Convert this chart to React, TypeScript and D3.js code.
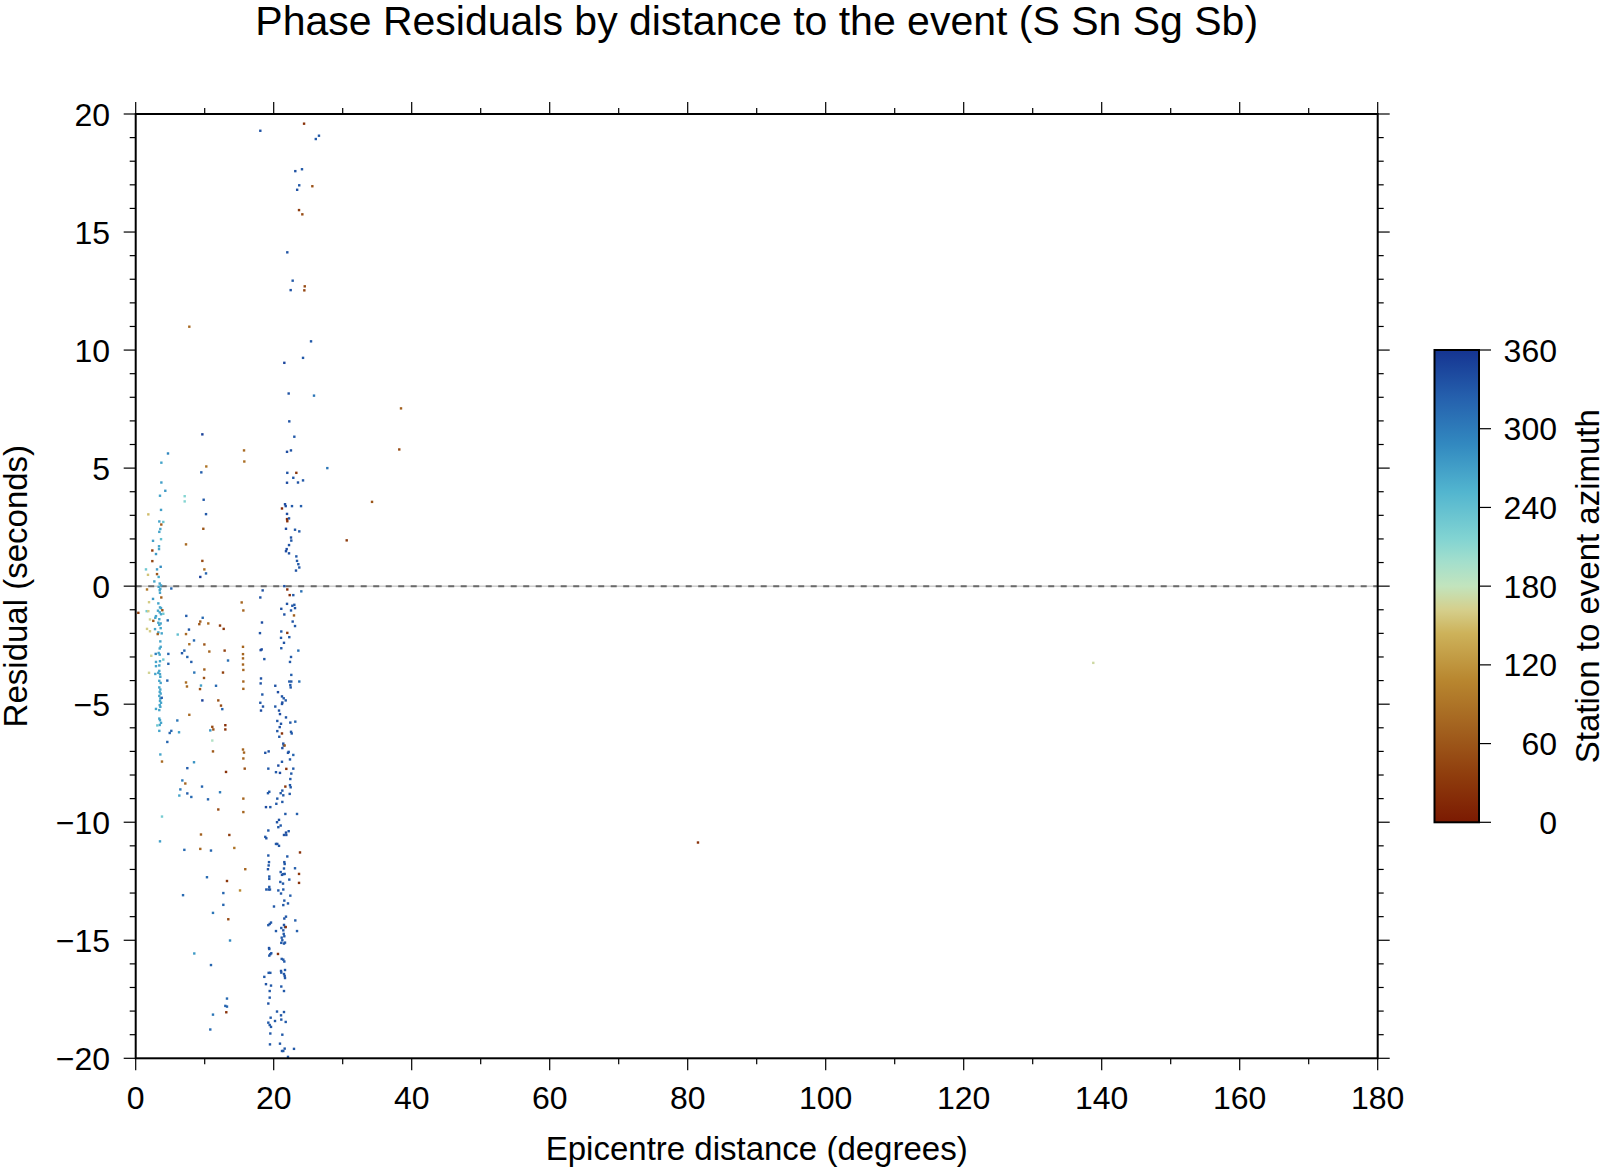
import React from "react";
import * as d3 from "d3";

// [distance (deg), residual (s), station-to-event azimuth (deg)]
type P = [number, number, number];

const xTickLabels = [0, 20, 40, 60, 80, 100, 120, 140, 160, 180];
const yTickLabels = [-20, -15, -10, -5, 0, 5, 10, 15, 20];
const cbTickLabels = [0, 60, 120, 180, 240, 300, 360];

// roma-like palette stops (azimuth fraction -> colour)
const paletteStops: [number, string][] = [
  [0.0, "#7b1a02"], [0.1, "#8f3d0d"], [0.2, "#a3621f"], [0.3, "#b8862f"],
  [0.4, "#cdb25a"], [0.45, "#d5cf8c"], [0.5, "#c2e4bd"], [0.55, "#a4dfcc"],
  [0.6, "#82d4d2"], [0.7, "#52b5cf"], [0.8, "#3289c0"], [0.9, "#2560ad"], [1.0, "#153491"],
];

const nearBand: P[] = [
  [4.68,5.62,290],[3.72,5.23,265],[3.72,4.39,270],[4.29,4.04,275],[3.52,3.83,265],[3.67,3.23,270],
  [1.83,3.04,150],[3.42,2.74,265],[4.0,2.72,235],[3.57,2.42,265],[3.42,2.3,265],[3.71,2.61,65],
  [3.67,1.99,240],[2.51,1.92,270],[3.38,1.69,265],[3.38,1.57,265],[2.41,1.51,35],[2.94,1.36,275],
  [2.41,1.06,45],[3.62,0.82,285],[1.49,0.71,230],[3.09,0.71,270],[1.78,0.48,155],[3.09,0.51,60],
  [3.33,0.39,260],[2.7,0.2,265],[3.48,0.11,265],[3.67,0.03,265],[3.33,-0.03,265],[3.57,-0.11,265],
  [3.48,-0.17,265],[1.64,-0.14,95],[3.52,-0.28,265],[3.71,-0.48,70],[2.51,-0.54,275],[1.93,-0.68,160],
  [3.28,-0.73,265],[3.52,-0.9,265],[3.67,-0.93,265],[3.23,-1.04,265],[1.59,-1.06,225],[1.83,-1.06,160],
  [3.86,-1.02,60],[0.38,-1.13,40],[3.48,-1.11,265],[3.67,-1.19,265],[4.0,-1.17,230],[2.94,-1.27,265],
  [2.84,-1.34,265],[3.42,-1.4,265],[3.28,-1.55,265],[3.62,-1.58,265],[3.42,-1.64,265],[2.07,-1.41,165],
  [2.55,-1.47,60],[4.64,-1.45,315],[1.64,-1.81,160],[2.8,-1.82,265],[3.62,-1.78,265],[2.07,-1.91,160],
  [3.28,-1.96,265],[3.77,-2.0,265],[3.19,-2.03,70],[3.57,-2.34,265],[3.62,-2.57,265],[3.48,-2.64,265],
  [3.33,-2.83,265],[3.48,-2.9,265],[2.9,-2.87,295],[4.73,-2.87,320],[2.26,-2.95,165],[4.0,-3.11,230],
  [2.94,-3.21,265],[3.52,-3.18,265],[3.42,-3.36,265],[2.94,-3.39,265],[4.73,-3.29,320],[1.93,-3.67,165],
  [3.42,-3.59,265],[3.28,-3.67,265],[3.52,-3.73,265],[3.57,-3.84,265],[3.42,-4.01,265],[3.62,-4.1,265],
  [3.42,-4.29,265],[3.57,-4.38,265],[3.48,-4.48,265],[3.62,-4.55,265],[3.42,-4.65,265],[3.57,-4.76,265],
  [3.52,-4.86,265],[3.67,-4.94,265],[3.48,-5.04,265],[3.57,-5.11,265],[3.42,-5.25,265],[2.94,-5.2,265],
  [2.84,-3.72,265],[4.58,-4.0,320],[3.77,-4.73,325],[3.42,-5.61,265],[3.52,-5.68,265],[3.67,-5.79,265],
  [3.48,-5.88,265],[3.13,-5.9,230],[3.42,-6.13,265],[5.16,-0.1,320],[5.16,-6.13,315],[4.93,-6.22,320],
  [4.58,-6.6,320],[3.57,-7.13,265],[3.81,-7.43,80],[3.81,-9.76,225],[3.52,-10.81,270],
];

const midBand: P[] = [
  [7.77,10.99,80],[9.66,6.43,350],[15.7,5.75,80],[15.74,5.28,85],[10.23,5.07,90],[9.51,4.82,325],
  [7.1,3.81,215],[7.1,3.59,215],[9.85,3.66,330],[10.19,3.05,330],[9.8,2.43,60],[7.29,1.77,80],
  [9.66,1.07,50],[9.95,0.71,85],[10.19,0.54,320],[9.36,0.39,350],[7.33,-1.26,325],[9.71,-1.34,315],
  [9.36,-1.5,65],[9.22,-1.61,60],[10.52,-1.58,80],[12.22,-1.67,35],[12.75,-1.81,30],[7.72,-1.84,330],
  [7.29,-2.03,80],[6.09,-2.05,240],[8.45,-2.3,315],[7.77,-2.46,85],[9.95,-2.47,60],[7.05,-2.73,320],
  [10.67,-2.77,75],[12.89,-2.73,40],[6.71,-2.84,330],[7.48,-3.0,320],[13.38,-3.15,310],[8.06,-3.21,325],
  [9.95,-3.53,70],[12.65,-3.66,40],[8.49,-3.66,305],[7.29,-4.08,85],[7.43,-4.25,80],[9.9,-3.89,55],
  [9.32,-4.36,55],[9.46,-4.21,270],[11.64,-4.22,315],[11.97,-4.84,55],[9.66,-4.84,350],[12.36,-5.06,50],
  [12.55,-5.21,320],[6.03,-5.69,305],[7.77,-5.45,80],[11.1,-5.96,50],[11.25,-6.07,55],[12.99,-5.89,25],
  [12.99,-6.07,30],[10.81,-6.11,280],[6.28,-6.19,270],[11.1,-6.54,190],[11.2,-7.0,65],[7.48,-7.71,325],
  [8.45,-7.46,280],[13.09,-7.87,25],[6.76,-8.23,300],[7.19,-8.36,75],[9.61,-8.49,320],[6.47,-8.61,300],
  [7.48,-8.78,325],[12.22,-8.73,300],[6.32,-8.87,265],[8.06,-8.93,315],[10.48,-9.03,320],[11.97,-9.46,50],
  [9.46,-10.52,70],[13.57,-10.54,35],[9.36,-11.13,75],[7.05,-11.17,315],[10.91,-11.2,320],[14.29,-11.09,90],
  [10.33,-12.33,315],[13.23,-12.49,30],[12.7,-13.0,320],[6.86,-13.09,315],[12.7,-13.5,320],[11.2,-13.84,305],
  [13.42,-14.11,50],[13.67,-15.01,290],[8.49,-15.56,275],[10.91,-16.05,320],[13.23,-17.47,315],
  [12.99,-17.78,320],[13.23,-17.81,320],[13.13,-18.05,25],[11.2,-18.15,305],[10.81,-18.78,315],
  [15.36,-0.69,75],[15.6,-1.03,75],[15.55,-2.57,75],[15.55,-2.88,75],[15.55,-3.06,75],[15.55,-3.32,75],
  [15.6,-3.55,75],[15.6,-4.04,75],[15.6,-4.35,75],[15.55,-6.92,75],[15.7,-7.05,75],[15.6,-7.3,75],
  [15.8,-7.73,55],[15.6,-9.0,75],[15.6,-9.57,75],[15.88,-11.99,75],[15.12,-12.89,110],
];

const farBand: P[] = [
  [18.06,19.29,335],[24.4,19.59,25],[26.56,19.08,330],[26.1,18.94,330],[23.13,17.58,335],[24.1,17.66,330],
  [23.7,16.98,330],[23.4,16.79,335],[25.6,16.94,55],[23.67,15.93,35],[24.15,15.75,50],[21.97,14.14,335],
  [22.75,12.94,330],[22.46,12.54,335],[24.5,12.7,50],[24.44,12.53,45],[25.41,10.37,330],[24.25,9.67,330],
  [21.54,9.46,345],[22.17,8.16,335],[25.84,8.07,305],[22.26,6.98,335],[22.99,6.33,330],[21.93,5.69,340],
  [22.5,5.75,335],[27.77,5.0,305],[21.97,4.8,335],[23.28,4.8,30],[22.84,4.59,330],[21.93,4.38,340],
  [23.52,4.39,335],[24.25,4.48,330],[21.64,3.47,340],[21.74,3.39,340],[22.65,3.39,330],[23.96,3.39,325],
  [21.2,3.29,15],[21.93,3.06,340],[21.93,2.84,20],[21.97,2.75,25],[22.22,2.87,335],[21.78,2.43,340],
  [23.09,2.39,330],[23.71,2.32,330],[22.51,2.06,335],[22.55,1.93,330],[22.22,1.74,335],[21.88,1.57,340],
  [21.78,1.48,340],[22.22,1.39,335],[23.28,1.26,330],[23.38,1.07,330],[23.57,0.93,330],[23.71,0.79,330],
  [23.23,0.66,335],[21.54,0.0,335],[21.97,-0.14,20],[18.4,-0.18,335],[24.0,-0.22,310],[22.32,-0.38,20],
  [22.84,-0.38,330],[18.06,-0.48,335],[21.93,-0.75,335],[22.7,-0.83,330],[22.99,-0.79,330],[23.09,-0.93,335],
  [21.1,-0.96,335],[22.51,-1.03,330],[21.54,-1.2,335],[22.94,-1.24,70],[22.75,-1.5,335],[18.3,-1.54,340],
  [23.09,-1.69,330],[18.01,-1.99,335],[21.1,-1.92,330],[21.97,-1.98,30],[22.26,-2.16,330],[21.06,-2.19,330],
  [21.49,-2.4,335],[18.26,-2.68,340],[18.11,-2.71,340],[21.1,-2.63,330],[23.57,-2.73,310],[18.64,-3.09,330],
  [22.51,-3.0,330],[22.36,-3.21,330],[22.55,-3.76,325],[18.16,-3.91,335],[18.11,-4.12,335],[22.26,-4.04,330],
  [22.55,-4.04,330],[22.41,-4.19,330],[22.46,-4.29,330],[23.71,-4.04,310],[20.23,-4.22,335],[20.62,-4.49,340],
  [18.35,-4.59,330],[21.2,-4.67,335],[21.45,-4.75,330],[21.74,-4.84,330],[21.25,-4.93,340],[21.2,-4.99,335],
  [18.06,-4.94,330],[18.45,-5.1,335],[18.16,-5.27,340],[20.23,-5.1,330],[20.77,-5.27,335],[20.91,-5.42,340],
  [21.78,-5.56,335],[20.52,-5.71,330],[21.06,-5.83,335],[22.41,-5.78,330],[23.13,-5.74,320],[20.87,-5.97,335],
  [20.52,-6.14,330],[22.51,-6.17,330],[22.61,-6.24,330],[21.2,-6.24,25],[20.81,-6.38,330],[21.39,-6.67,335],
  [21.45,-6.75,335],[21.59,-6.75,65],[21.25,-6.86,335],[22.17,-7.02,330],[22.07,-7.06,335],[22.84,-7.15,320],
  [18.78,-7.06,335],[19.27,-7.0,335],[22.36,-7.34,330],[21.2,-7.44,330],[20.67,-7.6,340],[19.22,-7.73,330],
  [22.84,-7.73,330],[21.83,-7.74,25],[22.55,-7.94,330],[20.33,-7.88,330],[20.91,-7.91,340],[22.41,-8.17,330],
  [22.36,-8.43,330],[22.46,-8.52,330],[21.69,-8.49,30],[21.25,-8.66,330],[21.01,-8.77,330],[21.39,-8.86,330],
  [22.32,-8.8,330],[19.36,-8.71,330],[19.17,-8.77,330],[20.52,-9.0,330],[21.25,-9.14,330],[20.38,-9.22,330],
  [18.88,-9.36,340],[19.51,-9.36,330],[21.69,-9.65,330],[23.38,-9.65,325],[20.77,-9.9,335],[20.48,-10.0,335],
  [21.01,-10.14,330],[20.67,-10.21,330],[22.17,-10.38,330],[21.78,-10.44,340],[21.49,-10.54,335],
  [21.83,-10.54,335],[19.22,-10.35,330],[18.78,-10.62,330],[18.93,-10.68,335],[20.33,-10.92,330],
  [20.52,-10.92,335],[20.77,-11.0,330],[23.81,-11.28,25],[21.97,-11.45,330],[19.22,-11.41,330],
  [19.32,-11.69,330],[19.27,-11.83,330],[19.17,-11.99,335],[21.54,-11.69,335],[21.59,-11.77,330],
  [21.49,-11.96,330],[23.09,-11.95,325],[21.01,-12.11,330],[21.2,-12.23,335],[21.39,-12.2,330],
  [21.59,-12.19,330],[23.67,-12.19,30],[23.67,-12.57,25],[19.36,-12.3,330],[19.36,-12.4,330],
  [22.26,-12.43,330],[20.96,-12.53,330],[21.35,-12.6,330],[18.93,-12.85,330],[19.27,-12.85,335],
  [19.46,-12.85,330],[19.36,-12.74,330],[20.67,-12.89,330],[21.06,-13.02,330],[21.39,-12.85,330],
  [22.41,-13.11,325],[21.54,-13.32,330],[21.39,-13.51,330],[22.07,-13.44,330],[20.04,-13.57,330],
  [21.54,-14.08,335],[21.78,-14.0,330],[23.13,-14.16,325],[23.38,-14.61,325],[19.61,-14.25,330],
  [19.42,-14.31,335],[19.22,-14.36,330],[21.49,-14.35,335],[21.1,-14.48,330],[21.64,-14.44,330],
  [21.74,-14.44,25],[20.33,-14.61,330],[21.39,-14.58,330],[21.45,-14.73,330],[21.54,-14.83,330],
  [21.16,-14.89,330],[21.25,-15.0,330],[21.49,-15.14,330],[21.64,-15.1,330],[21.1,-15.11,330],
  [19.32,-15.33,340],[19.36,-15.37,330],[19.65,-15.55,330],[19.51,-15.59,335],[19.36,-15.65,330],
  [20.62,-15.58,25],[21.16,-15.79,330],[21.39,-15.82,330],[21.54,-15.9,330],[21.06,-16.3,335],
  [21.1,-16.37,330],[21.64,-16.26,330],[21.49,-16.43,330],[21.59,-16.51,335],[21.64,-16.6,330],
  [19.27,-16.38,330],[19.51,-16.38,330],[18.64,-16.55,330],[18.88,-16.86,335],[19.61,-16.92,330],
  [21.1,-16.96,330],[19.42,-17.15,330],[21.49,-17.15,330],[19.42,-17.43,330],[19.22,-17.68,335],
  [20.48,-18.02,330],[21.06,-18.18,330],[21.49,-18.04,330],[19.56,-18.28,330],[20.19,-18.42,330],
  [19.22,-18.49,330],[19.42,-18.59,330],[19.61,-18.67,330],[21.1,-18.36,330],[21.74,-18.46,330],
  [19.51,-18.95,330],[21.25,-19.0,330],[19.46,-19.41,330],[20.91,-19.38,330],[21.2,-19.69,330],
  [21.39,-19.69,330],[21.59,-19.59,330],[22.94,-19.6,330],[22.07,-19.94,330],
];

const outliers: P[] = [
  [30.58,1.94,35],[34.25,3.57,60],[38.2,5.79,50],[38.45,7.53,70],[81.49,-10.86,25],[138.78,-3.25,170],
];

const FONT = "'Liberation Sans', Arial, Helvetica, sans-serif";

export default function App() {
  const W = 1600, H = 1169;
  const x = d3.scaleLinear().domain([0, 180]).range([135.7, 1377.7]);
  const y = d3.scaleLinear().domain([-20, 20]).range([1058.3, 114]);
  const color = d3
    .scaleLinear<string>()
    .domain(paletteStops.map((s) => s[0] * 360))
    .range(paletteStops.map((s) => s[1]))
    .interpolate(d3.interpolateRgb);
  const cb = d3.scaleLinear().domain([0, 360]).range([822.3, 350]);
  const cbX0 = 1434.5, cbX1 = 1479;

  const [x0, x1] = x.range();
  const [yb, yt] = y.range();
  const xMinor = d3.range(0, 181, 10).filter((v) => v % 20 !== 0);
  const xMajor = xTickLabels;
  const yMinor = d3.range(-20, 21, 1).filter((v) => v % 5 !== 0);
  const yMajor = yTickLabels;

  const all: P[] = [...nearBand, ...midBand, ...farBand, ...outliers];
  const ps = 2.4;

  return (
    <svg
      width={W}
      height={H}
      style={{ position: "absolute", left: 0, top: 0, background: "#fff" }}
      fontFamily={FONT}
    >
      <defs>
        <linearGradient id="cbgrad" x1="0" y1="1" x2="0" y2="0">
          {paletteStops.map((s, i) => (
            <stop key={i} offset={s[0]} stopColor={s[1]} />
          ))}
        </linearGradient>
      </defs>
      <rect width={W} height={H} fill="#fff" />
      <text x={(x0 + x1) / 2} y={35} fontSize={41} textAnchor="middle" fill="#000">
        Phase Residuals by distance to the event (S Sn Sg Sb)
      </text>

      {/* zero line */}
      <line x1={x0} x2={x1} y1={y(0)} y2={y(0)} stroke="#b4b4b4" strokeWidth={1} />
      <line x1={x0} x2={x1} y1={y(0)} y2={y(0)} stroke="#6a6a6a" strokeWidth={2} strokeDasharray="6 6.5" />

      {/* points */}
      <g>
        {all.map((p, i) => (
          <rect
            key={i}
            x={x(p[0]) - ps / 2}
            y={y(p[1]) - ps / 2}
            width={ps}
            height={ps}
            fill={color(p[2])}
          />
        ))}
      </g>

      {/* ticks */}
      <g stroke="#000" strokeWidth={1.2}>
        {xMajor.map((v) => (
          <g key={"xM" + v}>
            <line x1={x(v)} x2={x(v)} y1={yb} y2={yb + 12} />
            <line x1={x(v)} x2={x(v)} y1={yt} y2={yt - 12} />
          </g>
        ))}
        {xMinor.map((v) => (
          <g key={"xm" + v}>
            <line x1={x(v)} x2={x(v)} y1={yb} y2={yb + 6} />
            <line x1={x(v)} x2={x(v)} y1={yt} y2={yt - 6} />
          </g>
        ))}
        {yMajor.map((v) => (
          <g key={"yM" + v}>
            <line x1={x0} x2={x0 - 12} y1={y(v)} y2={y(v)} />
            <line x1={x1} x2={x1 + 12} y1={y(v)} y2={y(v)} />
          </g>
        ))}
        {yMinor.map((v) => (
          <g key={"ym" + v}>
            <line x1={x0} x2={x0 - 6} y1={y(v)} y2={y(v)} />
            <line x1={x1} x2={x1 + 6} y1={y(v)} y2={y(v)} />
          </g>
        ))}
      </g>
      <rect x={x0} y={yt} width={x1 - x0} height={yb - yt} fill="none" stroke="#000" strokeWidth={2} />

      {/* tick labels */}
      <g fontSize={32} fill="#000">
        {xTickLabels.map((v) => (
          <text key={"xl" + v} x={x(v)} y={1109} textAnchor="middle">
            {v}
          </text>
        ))}
        {yTickLabels.map((v) => (
          <text key={"yl" + v} x={110} y={y(v) + 11.5} textAnchor="end">
            {v < 0 ? "\u2212" + Math.abs(v) : String(v)}
          </text>
        ))}
      </g>

      {/* axis labels */}
      <text x={(x0 + x1) / 2} y={1160} fontSize={33} textAnchor="middle">
        Epicentre distance (degrees)
      </text>
      <text
        transform={`translate(27,${(yt + yb) / 2}) rotate(-90)`}
        fontSize={33}
        textAnchor="middle"
      >
        Residual (seconds)
      </text>

      {/* colour bar */}
      <rect x={cbX0} y={cb(360)} width={cbX1 - cbX0} height={cb(0) - cb(360)} fill="url(#cbgrad)" />
      <rect
        x={cbX0}
        y={cb(360)}
        width={cbX1 - cbX0}
        height={cb(0) - cb(360)}
        fill="none"
        stroke="#000"
        strokeWidth={2}
      />
      <g stroke="#000" strokeWidth={1.2}>
        {cbTickLabels.map((v) => (
          <line key={"cbt" + v} x1={cbX1} x2={cbX1 + 12} y1={cb(v)} y2={cb(v)} />
        ))}
      </g>
      <g fontSize={32} fill="#000">
        {cbTickLabels.map((v) => (
          <text key={"cbl" + v} x={1557} y={cb(v) + 11.5} textAnchor="end">
            {v}
          </text>
        ))}
      </g>
      <text
        transform={`translate(1599,${(cb(0) + cb(360)) / 2}) rotate(-90)`}
        fontSize={33}
        textAnchor="middle"
      >
        Station to event azimuth
      </text>
    </svg>
  );
}
